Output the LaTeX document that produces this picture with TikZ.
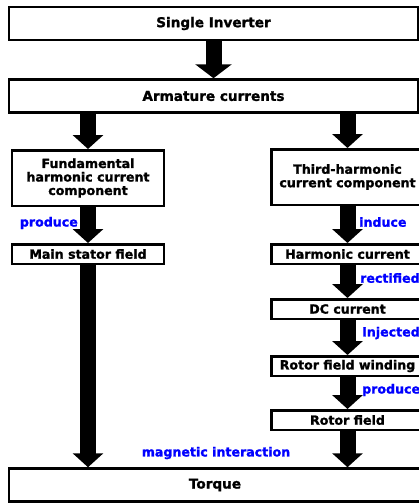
\documentclass[tikz,border=0pt]{standalone}
\usepackage{fontspec}
\setmainfont{DejaVu Sans}[BoldFeatures={FakeBold=1.5}]
\usepackage{tikz}
\usetikzlibrary{arrows.meta}

\begin{document}
\begin{tikzpicture}[x=1pt, y=-1pt,
    box/.style={draw, line width=2.5pt, align=center, inner sep=2pt, font=\bfseries\fontsize{12.6}{13.5}\selectfont},
    wide/.style={box, minimum width=409pt, minimum height=33pt, font=\bfseries\fontsize{13.6}{15}\selectfont},
    colbox/.style={box, minimum width=152pt, minimum height=19.5pt},
    tall/.style={colbox, minimum height=55.5pt},
    lbl/.style={text=blue, inner sep=0pt, font=\bfseries\fontsize{12.6}{14}\selectfont},
    fat/.style={line width=16pt, -{Triangle[width=30pt, length=14pt]}}]

    \useasboundingbox (0,0) rectangle (419,504);
    \clip (0,0) rectangle (419,504);

    \node[wide] (inv) at (213.5,23.5) {Single Inverter};
    \node[wide] (arm) at (213.5,96) {Armature currents};

    \node[tall] (fund) at (88,178) {Fundamental\\harmonic current\\component};
    \node[colbox] (stator) at (88,254) {Main stator field};

    \node[tall] (third) at (347.5,177) {Third-harmonic\\current component};
    \node[colbox] (harm) at (347.5,254) {Harmonic current};
    \node[colbox] (dc) at (347.5,309) {DC current};
    \node[colbox] (wind) at (347.5,366) {Rotor field winding};
    \node[colbox] (rotor) at (347.5,420) {Rotor field};

    \node[wide, minimum width=412pt] (torque) at (215,485) {Torque};

    \node[lbl, anchor=east] (prodA) at (78,223) {produce};
    \node[lbl, anchor=west] (induce) at (359,222) {induce};
    \node[lbl, anchor=west] (rect) at (360,278) {rectified};
    \node[lbl, anchor=west] (inj) at (362,333) {Injected};
    \node[lbl, anchor=west] (prodB) at (362,390) {produce};
    \node[lbl] (magn) at (216,453) {magnetic interaction};

    \draw[fat, -{Triangle[width=36pt, length=14pt]}] (inv) -- (arm);
    \draw[fat] (arm.south -| fund.north) -- (fund.north);
    \draw[fat] (fund) -- (stator);
    \draw[fat] (stator.south) -- (torque.north -| stator.south);
    \draw[fat] (arm.south -| third.north) -- (third.north);
    \draw[fat] (third) -- (harm);
    \draw[fat] (harm) -- (dc);
    \draw[fat] (dc) -- (wind);
    \draw[fat] (wind) -- (rotor);
    \draw[fat] (rotor.south) -- (torque.north -| rotor.south);
\end{tikzpicture}
\end{document}
